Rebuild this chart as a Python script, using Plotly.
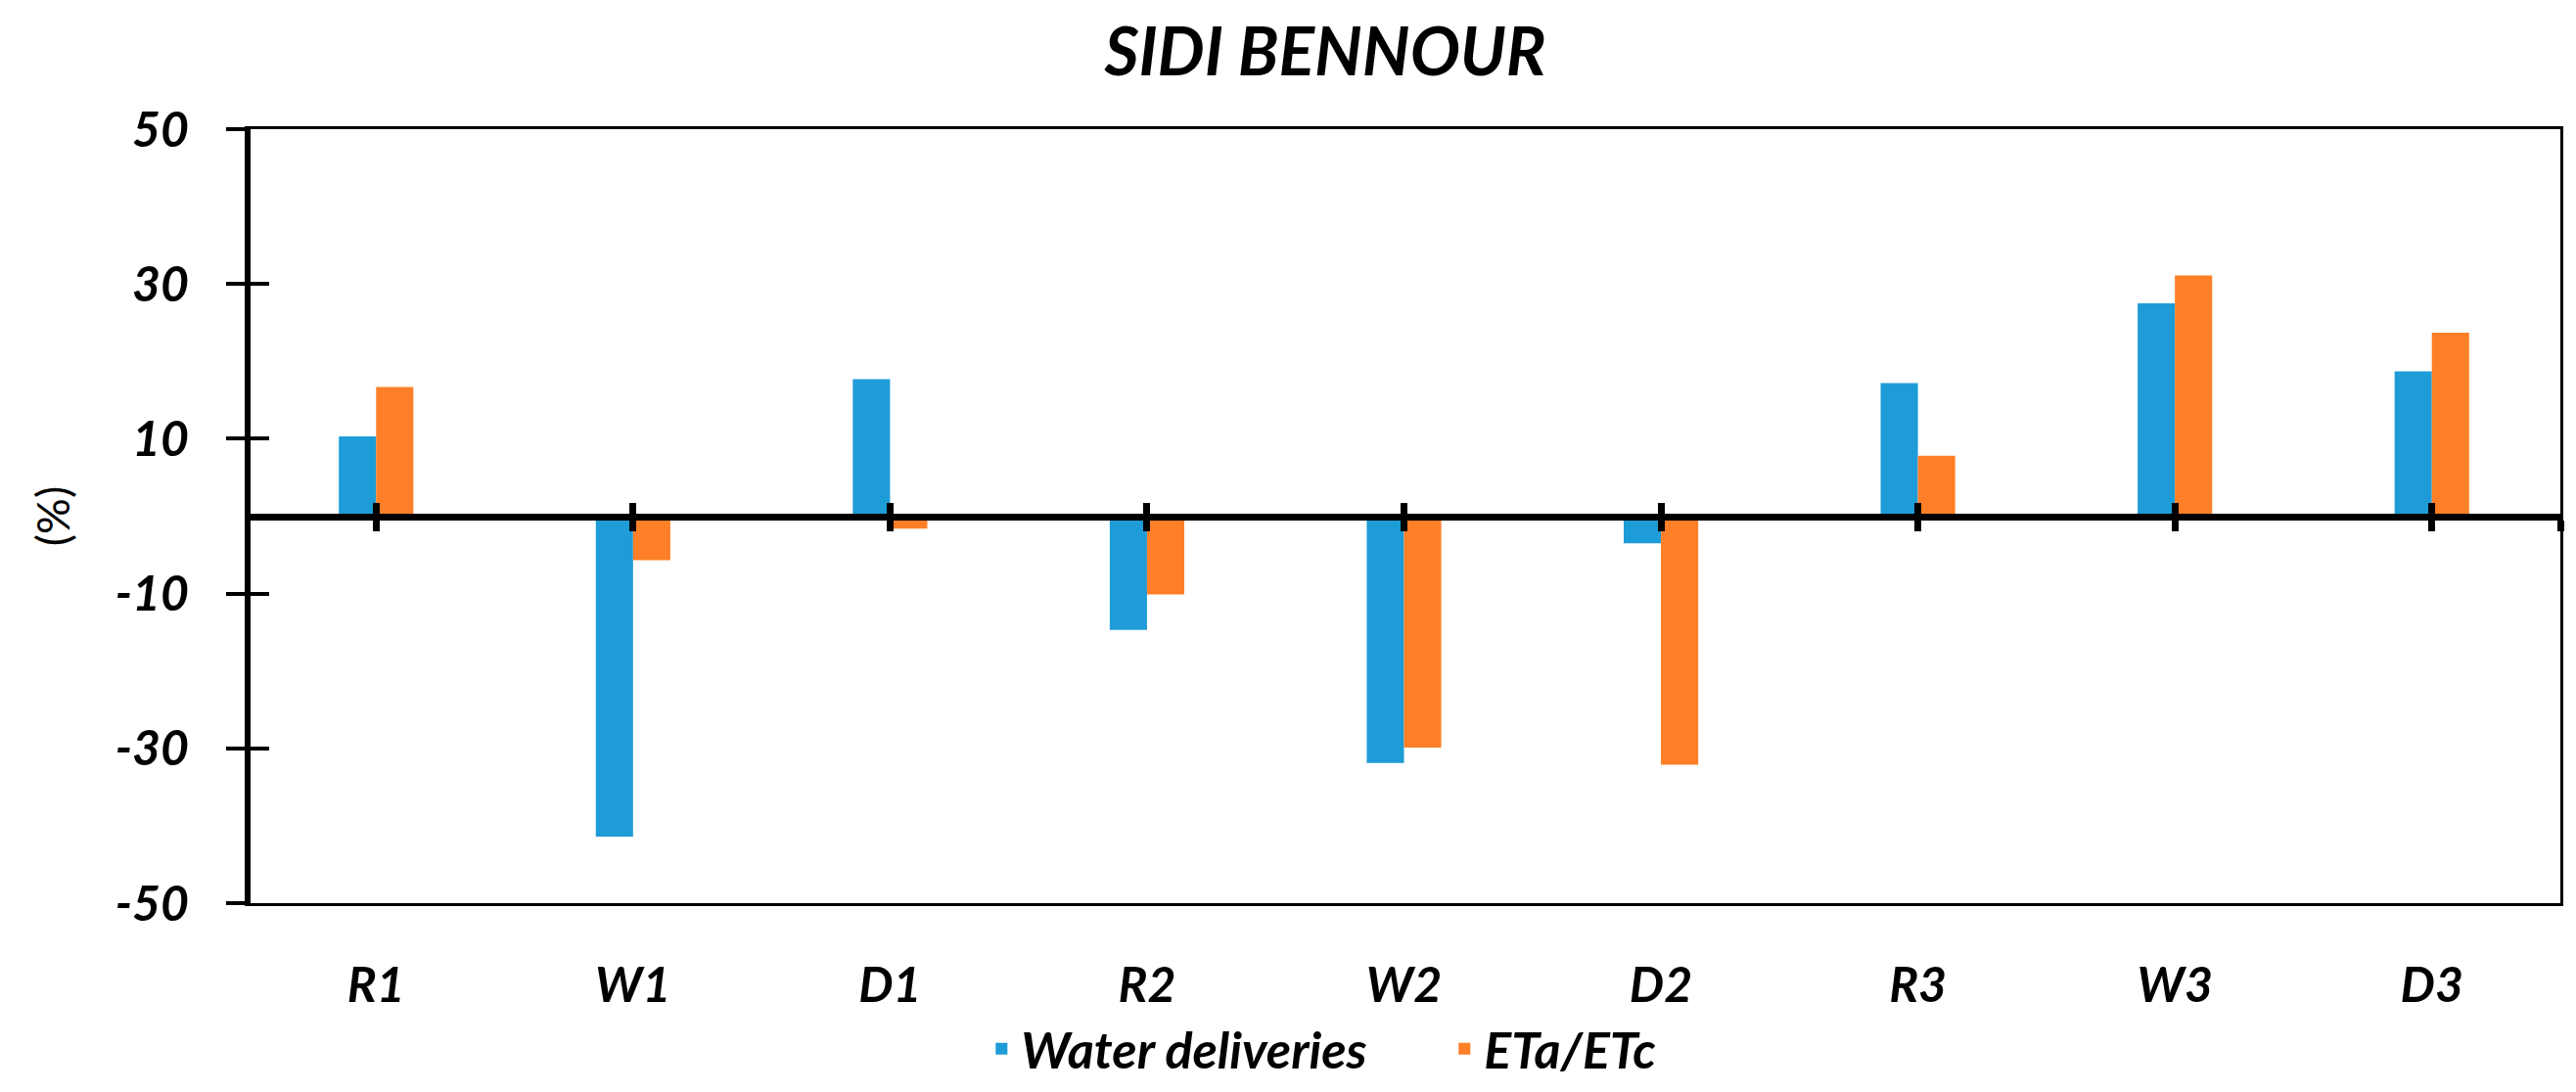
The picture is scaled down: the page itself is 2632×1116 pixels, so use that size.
import plotly.graph_objects as go

categories = ["R1", "W1", "D1", "R2", "W2", "D2", "R3", "W3", "D3"]
water_deliveries = [10.3, -41.4, 17.7, -14.7, -31.9, -3.5, 17.2, 27.5, 18.7]
eta_etc = [16.7, -5.7, -1.6, -10.1, -29.9, -32.1, 7.8, 31.1, 23.7]
y_ticks = [-50, -30, -10, 10, 30, 50]
y_tick_text = ["-50", "-30", "-10", "10", "30", "50"]
y_range = [-50, 50]

BLUE = "#1E9CD7"
ORANGE = "#FE7F27"
FONT = "Lato"

n = len(categories)
x_range = [-0.5, n - 0.5]
cat_pos = list(range(n)) + [n - 0.5]

fig = go.Figure()
fig.add_trace(go.Bar(x=categories, y=water_deliveries, name="Water deliveries",
                     marker=dict(color=BLUE, line=dict(width=0))))
fig.add_trace(go.Bar(x=categories, y=eta_etc, name="ETa/ETc",
                     marker=dict(color=ORANGE, line=dict(width=0))))
# helper traces so the overlay axes (crossing tick marks) are drawn
fig.add_trace(go.Scatter(x=[None], y=[None], xaxis="x2", yaxis="y", showlegend=False, hoverinfo="skip"))
fig.add_trace(go.Scatter(x=[None], y=[None], xaxis="x3", yaxis="y", showlegend=False, hoverinfo="skip"))
fig.add_trace(go.Scatter(x=[None], y=[None], xaxis="x", yaxis="y2", showlegend=False, hoverinfo="skip"))

bold_it = dict(family=FONT, color="black", weight="bold", style="italic")

fig.update_layout(
    width=2632, height=1116,
    margin=dict(l=245, r=24, t=124, b=196),
    paper_bgcolor="white", plot_bgcolor="white",
    barmode="group", bargap=0.71, bargroupgap=0,
    title=dict(text="SIDI BENNOUR", x=1346 / 2632, xref="container", xanchor="center",
               y=1 - 45 / 1116, yref="container", yanchor="middle",
               font=dict(size=68, **bold_it)),
    legend=dict(orientation="h", x=(995 - 245) / 2362, xanchor="left",
                y=(920 - 1070) / 796, yanchor="middle",
                font=dict(size=52, **bold_it), itemwidth=30, entrywidth=428,
                tracegroupgap=0, bgcolor="rgba(0,0,0,0)"),
    xaxis=dict(type="category", range=x_range, showline=True, linecolor="black", linewidth=3,
               mirror=True, ticks="", showgrid=False, zeroline=False,
               tickfont=dict(size=50, **bold_it), ticklabelstandoff=38),
    xaxis2=dict(overlaying="x", anchor="free", position=0.5, side="bottom", range=x_range,
                showline=True, linecolor="black", linewidth=7, tickmode="array", tickvals=cat_pos,
                ticks="outside", ticklen=11, tickwidth=7, tickcolor="black",
                showticklabels=False, showgrid=False, zeroline=False),
    xaxis3=dict(overlaying="x", anchor="free", position=0.5, side="bottom", range=x_range,
                showline=False, tickmode="array", tickvals=cat_pos,
                ticks="inside", ticklen=14, tickwidth=7, tickcolor="black",
                showticklabels=False, showgrid=False, zeroline=False),
    yaxis=dict(range=y_range, tickmode="array", tickvals=y_ticks, ticktext=y_tick_text,
               showline=True, linecolor="black",
               linewidth=3, mirror=True, ticks="outside", ticklen=19, tickwidth=4, tickcolor="black",
               showgrid=False, zeroline=False, tickfont=dict(size=50, **bold_it),
               ticklabelstandoff=28,
               title=dict(text="(%)", font=dict(family=FONT, size=46, color="black"), standoff=32)),
    yaxis2=dict(overlaying="y", anchor="free", position=0, side="left", range=y_range,
                tickmode="array", tickvals=y_ticks, showline=True, linecolor="black", linewidth=5,
                ticks="inside", ticklen=19, tickwidth=4, tickcolor="black",
                showticklabels=False, showgrid=False, zeroline=False),
)

fig.write_html("out.html")
